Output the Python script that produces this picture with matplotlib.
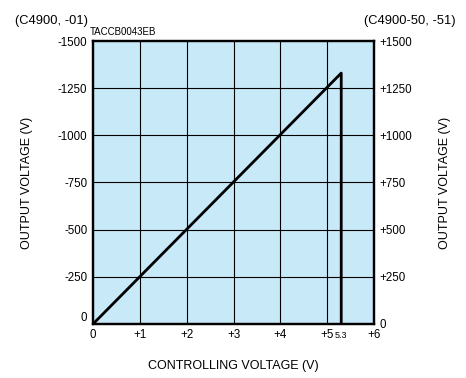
import matplotlib
matplotlib.use("Agg")
import matplotlib.pyplot as plt

plt.rcParams['font.family'] = ['Liberation Sans', 'DejaVu Sans']

# output voltage vs controlling voltage
ctrl_v = [0, 5.3, 5.3]
out_v = [0, 1330, 0]

x_ticks = [0, 1, 2, 3, 4, 5, 5.3, 6]
x_labels = ["0", "+1", "+2", "+3", "+4", "+5", "5.3", "+6"]
y_ticks = [0, 250, 500, 750, 1000, 1250, 1500]
y_left_labels = ["0", "-250", "-500", "-750", "-1000", "-1250", "-1500"]
y_right_labels = ["0", "+250", "+500", "+750", "+1000", "+1250", "+1500"]


def main():
    fig = plt.figure(figsize=(4.66, 3.78), dpi=100)
    ax = fig.add_axes([0.1996, 0.1429, 0.6030, 0.7486])
    ax.set_facecolor("#c8e9f8")

    for x in [1, 2, 3, 4, 5]:
        ax.axvline(x, color="black", lw=0.8, zorder=1)
    for y in [250, 500, 750, 1000, 1250]:
        ax.axhline(y, color="black", lw=0.8, zorder=1)

    ax.plot(ctrl_v, out_v, color="black", lw=2, zorder=3)

    ax.set_xlim(0, 6)
    ax.set_ylim(0, 1500)
    for s in ax.spines.values():
        s.set_linewidth(1.6)

    ax.set_xticks(x_ticks)
    ax.set_xticklabels(x_labels, fontsize=8.3, va="center")
    ax.get_xticklabels()[6].set_fontsize(6.5)
    ax.set_yticks(y_ticks)
    ax.set_yticklabels(y_left_labels, fontsize=8.3)
    ax.get_yticklabels()[0].set_va("bottom")
    ax.tick_params(length=0, pad=4)
    ax.tick_params(axis="x", pad=8)

    ax2 = ax.twinx()
    ax2.set_ylim(0, 1500)
    ax2.set_yticks(y_ticks)
    ax2.set_yticklabels(y_right_labels, fontsize=8.3)
    ax2.tick_params(length=0, pad=4)
    for s in ax2.spines.values():
        s.set_linewidth(1.6)

    ax.set_xlabel("CONTROLLING VOLTAGE (V)", fontsize=9, va="center")
    ax.xaxis.set_label_coords(0.5, -0.15)
    ax.set_ylabel("OUTPUT VOLTAGE (V)", fontsize=9, va="center")
    ax.yaxis.set_label_coords(-0.235, 0.5)
    ax2.set_ylabel("OUTPUT VOLTAGE (V)", fontsize=9, rotation=90, va="center")
    ax2.yaxis.set_label_coords(1.253, 0.5)

    fig.text(0.032, 0.945, "(C4900, -01)", fontsize=9.3, va="center")
    fig.text(0.977, 0.945, "(C4900-50, -51)", fontsize=9.3, va="center", ha="right")
    fig.text(0.193, 0.915, "TACCB0043EB", fontsize=7, va="center")

    fig.savefig("out.png", dpi=100)


if __name__ == '__main__':
    main()
